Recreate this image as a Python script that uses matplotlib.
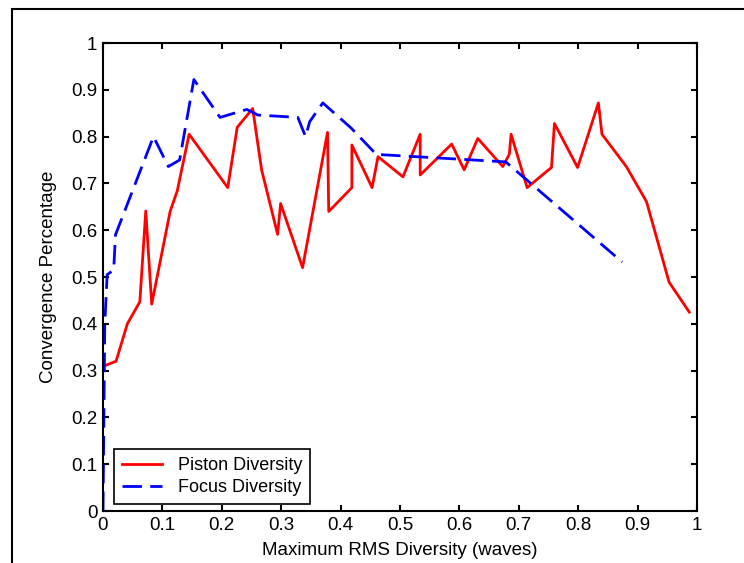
import matplotlib
matplotlib.use("Agg")
from matplotlib import pyplot as plt
from matplotlib.patches import Rectangle

plt.rcParams['font.family'] = ['Liberation Sans', 'DejaVu Sans']
plt.rcParams['lines.scale_dashes'] = False

# piston diversity curve
px = [0.006, 0.022, 0.041, 0.062, 0.072, 0.082, 0.113, 0.125, 0.145, 0.210,
      0.226, 0.252, 0.267, 0.294, 0.299, 0.336, 0.378, 0.380, 0.419, 0.419,
      0.453, 0.463, 0.505, 0.534, 0.534, 0.587, 0.608, 0.631, 0.673, 0.684,
      0.687, 0.714, 0.755, 0.760, 0.799, 0.834, 0.840, 0.881, 0.915, 0.953, 0.987]
py = [0.312, 0.320, 0.400, 0.447, 0.641, 0.442, 0.640, 0.684, 0.805, 0.691,
      0.820, 0.860, 0.729, 0.591, 0.657, 0.520, 0.809, 0.640, 0.691, 0.782,
      0.691, 0.757, 0.714, 0.805, 0.718, 0.784, 0.729, 0.796, 0.736, 0.762,
      0.805, 0.691, 0.734, 0.828, 0.734, 0.872, 0.805, 0.736, 0.661, 0.489, 0.425]

# focus diversity curve
fx = [0.000, 0.003, 0.007, 0.018, 0.021, 0.085, 0.110, 0.129, 0.153, 0.197,
      0.242, 0.261, 0.328, 0.341, 0.348, 0.370, 0.418, 0.460, 0.678, 0.874]
fy = [0.000, 0.400, 0.505, 0.515, 0.590, 0.800, 0.736, 0.750, 0.922, 0.841,
      0.858, 0.846, 0.841, 0.800, 0.832, 0.872, 0.818, 0.762, 0.746, 0.532]

ticks = [0, 0.1, 0.2, 0.3, 0.4, 0.5, 0.6, 0.7, 0.8, 0.9, 1]
tlabels = ['0', '0.1', '0.2', '0.3', '0.4', '0.5', '0.6', '0.7', '0.8', '0.9', '1']

fs = 13.5

fig = plt.figure(figsize=(7.44, 5.63), dpi=100)
ax = fig.add_axes([103/744, 1-511/563, 594/744, 468/563])

ax.plot(px, py, color='red', lw=2.0, label='Piston Diversity')
ax.plot(fx, fy, color='blue', lw=2.0, dashes=(14, 6), label='Focus Diversity')

ax.set_xlim(0, 1)
ax.set_ylim(0, 1)
ax.set_xticks(ticks)
ax.set_xticklabels(tlabels)
ax.set_yticks(ticks)
ax.set_yticklabels(tlabels)
ax.tick_params(direction='in', length=4.5, width=1.5, top=True, right=True,
               labelsize=fs, pad=4)
for s in ax.spines.values():
    s.set_linewidth(1.5)

ax.set_xlabel('Maximum RMS Diversity (waves)', fontsize=fs, labelpad=6)
ax.set_ylabel('Convergence Percentage', fontsize=fs, labelpad=10)

leg = ax.legend(loc='lower left', bbox_to_anchor=(0.018, 0.015), borderaxespad=0,
                fontsize=13, fancybox=False, framealpha=1, edgecolor='black',
                handlelength=2.2, handletextpad=0.9, borderpad=0.45, labelspacing=0.25)
leg.get_frame().set_linewidth(1.2)

# outer frame of the figure
fig.patches.append(Rectangle((12/744, -0.1), 1.0, 1.1 - 9/563, transform=fig.transFigure,
                             fill=False, lw=1.5, edgecolor='black'))

fig.savefig('out.png', dpi=100)
